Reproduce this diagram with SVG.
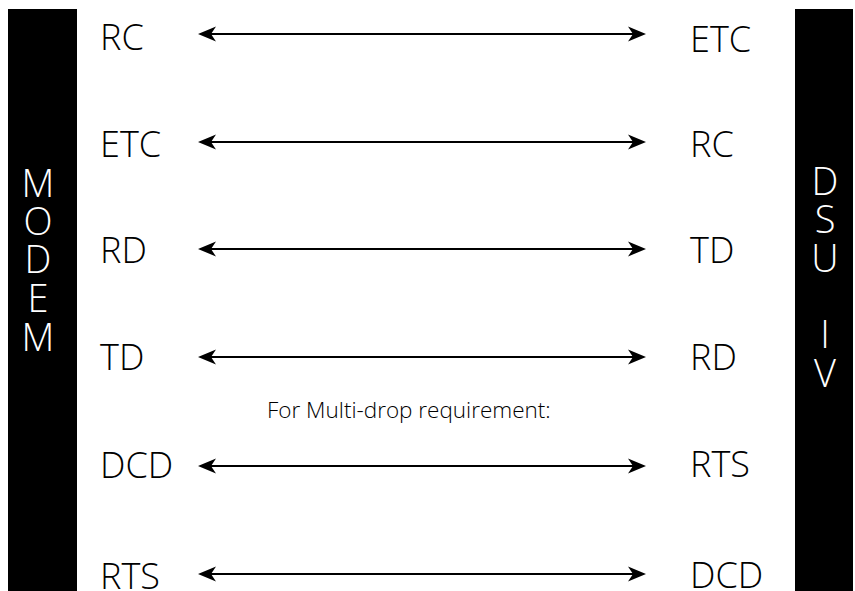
<svg xmlns="http://www.w3.org/2000/svg" width="855" height="591" viewBox="0 0 855 591">
<style>
.bar{fill:#000}
.lbl{font-family:"Open Sans","Noto Sans","Liberation Sans",sans-serif;font-size:36px;font-weight:350;fill:#000}
.vt{font-family:"Open Sans","Noto Sans","Liberation Sans",sans-serif;font-size:38px;font-weight:350;fill:#fff;text-anchor:middle}
.note{font-family:"Open Sans","Noto Sans","Liberation Sans",sans-serif;font-size:22.5px;font-weight:350;fill:#000}
.conn{stroke:#000;stroke-width:2;fill:none;marker-start:url(#ah);marker-end:url(#ah)}
</style>
<defs>
<marker id="ah" markerUnits="userSpaceOnUse" viewBox="0 0 18 16" refX="12" refY="8" markerWidth="18" markerHeight="16" orient="auto-start-reverse">
<path d="M0,0.5 L18,8 L0,15.5 L5,8 Z" fill="#000"/>
</marker>
</defs>
<rect width="855" height="591" fill="#fff"/>
<g id="modem">
<rect class="bar" x="8" y="9" width="69" height="582"/>
<text class="vt" x="38" y="197">M</text>
<text class="vt" x="38" y="235">O</text>
<text class="vt" x="38" y="273">D</text>
<text class="vt" x="38" y="312">E</text>
<text class="vt" x="38" y="351">M</text>
</g>
<g id="dsu">
<rect class="bar" x="795" y="9" width="58" height="582"/>
<text class="vt" x="825" y="195">D</text>
<text class="vt" x="825" y="233">S</text>
<text class="vt" x="825" y="272">U</text>
<text class="vt" x="825" y="348">I</text>
<text class="vt" x="825" y="387">V</text>
</g>
<g id="left-labels">
<text class="lbl" x="100" y="50">RC</text>
<text class="lbl" x="100" y="157">ETC</text>
<text class="lbl" x="100" y="263">RD</text>
<text class="lbl" x="100" y="370">TD</text>
<text class="lbl" x="100" y="478">DCD</text>
<text class="lbl" x="100" y="589">RTS</text>
</g>
<g id="right-labels">
<text class="lbl" x="690" y="52">ETC</text>
<text class="lbl" x="690" y="157">RC</text>
<text class="lbl" x="690" y="263">TD</text>
<text class="lbl" x="690" y="370">RD</text>
<text class="lbl" x="690" y="477">RTS</text>
<text class="lbl" x="690" y="588">DCD</text>
</g>
<g id="note">
<text class="note" x="267" y="418">For Multi-drop requirement:</text>
</g>
<g id="connectors">
<line class="conn" x1="204" y1="34" x2="640" y2="34"/>
<line class="conn" x1="204" y1="142" x2="640" y2="142"/>
<line class="conn" x1="204" y1="249" x2="640" y2="249"/>
<line class="conn" x1="204" y1="357" x2="640" y2="357"/>
<line class="conn" x1="204" y1="466" x2="640" y2="466"/>
<line class="conn" x1="204" y1="574" x2="640" y2="574"/>
</g>
</svg>
